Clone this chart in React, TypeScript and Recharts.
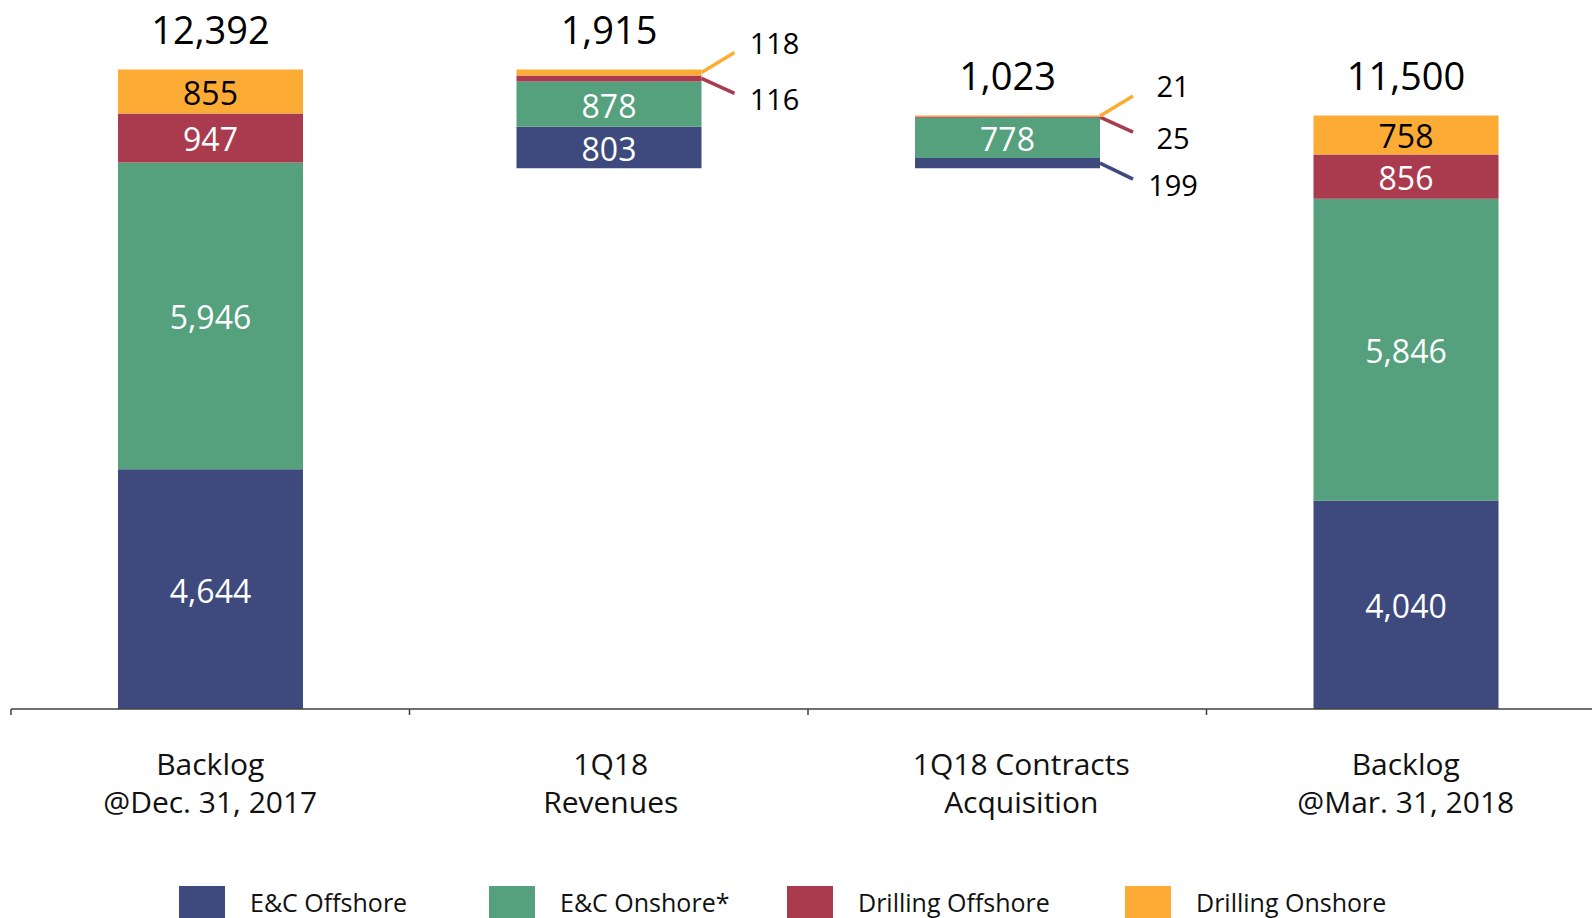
import { BarChart, Bar, XAxis, YAxis, LabelList } from 'recharts';

const categories = [
  'Backlog\n@Dec. 31, 2017',
  '1Q18\nRevenues',
  '1Q18 Contracts\nAcquisition',
  'Backlog\n@Mar. 31, 2018',
];
// invisible offset so the middle bars float (waterfall)
const base = [0, 10477, 10477, 0];
const ecOffshore = [4644, 803, 199, 4040];
const ecOnshore = [5946, 878, 778, 5846];
const drillingOffshore = [947, 116, 25, 856];
const drillingOnshore = [855, 118, 21, 758];
const totals = [12392, 1915, 1023, 11500];

const seriesNames = ['E&C Offshore', 'E&C Onshore*', 'Drilling Offshore', 'Drilling Onshore'];
const COLORS = ['#3E4A7D', '#55A07D', '#AA3B4F', '#FCAC35'];

const CHART_W = 1605;
const CHART_H = 918;
const MARGIN = { top: 38, right: 0, left: 11, bottom: 99 };
const BAND = (CHART_W - MARGIN.left - MARGIN.right) / categories.length;
const FONT = '"Open Sans", "DejaVu Sans", sans-serif';
// small horizontal nudge of the category text, as in the original slide
const tickNudge = [0, 2, 14, 0];

const chartData = categories.map((name, i) => ({
  name,
  base: base[i],
  ecOffshore: ecOffshore[i],
  ecOnshore: ecOnshore[i],
  drillingOffshore: drillingOffshore[i],
  drillingOnshore: drillingOnshore[i],
  total: totals[i],
}));

const fmt = (v: number) => v.toLocaleString('en-US');

function CategoryTick(props: any) {
  const { x, y, payload, index } = props;
  const lines = String(payload.value).split('\n');
  const tx = x + (tickNudge[index] ?? 0);
  return (
    <g>
      <line x1={x - BAND / 2} x2={x - BAND / 2} y1={y} y2={y + 6} stroke="#404040" strokeWidth={1.5} />
      {lines.map((l, i) => (
        <text
          key={i}
          x={tx}
          y={y + 54.5 + i * 37.5}
          textAnchor="middle"
          dominantBaseline="central"
          fontSize={30}
          fontFamily={FONT}
          fill="#111"
        >
          {l}
        </text>
      ))}
    </g>
  );
}

// value inside the segment, or a leader line + label when the segment is too thin
const segLabel = (color: string, textColor: string, leaderDy: number, textDy: number) => (props: any) => {
  const x = Number(props.x), y = Number(props.y);
  const width = Number(props.width), height = Number(props.height);
  const value = props.value;
  if (value == null || !height) return null;
  if (height >= 20) {
    return (
      <text
        x={x + width / 2}
        y={y + height / 2 + 1}
        textAnchor="middle"
        dominantBaseline="central"
        fontSize={32}
        fontFamily={FONT}
        fill={textColor}
      >
        {fmt(value)}
      </text>
    );
  }
  const sx = x + width;
  const sy = y + height / 2;
  const ex = sx + 33;
  const ey = sy + leaderDy;
  return (
    <g>
      <line x1={sx} y1={sy} x2={ex} y2={ey} stroke={color} strokeWidth={3.5} />
      <text
        x={ex + 40}
        y={ey + textDy}
        textAnchor="middle"
        dominantBaseline="central"
        fontSize={29}
        fontFamily={FONT}
        fill="#000"
      >
        {fmt(value)}
      </text>
    </g>
  );
};

const totalLabel = (props: any) => {
  const x = Number(props.x), y = Number(props.y), width = Number(props.width);
  return (
    <text
      x={x + width / 2}
      y={y - 40}
      textAnchor="middle"
      dominantBaseline="central"
      fontSize={38}
      fontWeight={500}
      fontFamily={FONT}
      fill="#000"
    >
      {fmt(props.value)}
    </text>
  );
};

const legendLeft = [179, 489, 787, 1125];

export default function App() {
  return (
    <div
      style={{
        position: 'fixed',
        left: 0,
        top: 0,
        width: 1592,
        height: 918,
        overflow: 'hidden',
        background: '#fff',
        fontFamily: FONT,
      }}
    >
      <BarChart width={CHART_W} height={CHART_H} data={chartData} margin={MARGIN} barSize={185}>
        <XAxis
          dataKey="name"
          height={110}
          interval={0}
          tickSize={0}
          tickMargin={0}
          tickLine={false}
          axisLine={{ stroke: '#404040', strokeWidth: 1.5 }}
          tick={<CategoryTick />}
        />
        <YAxis hide domain={[0, 13000]} />
        <Bar dataKey="base" stackId="a" fill="transparent" isAnimationActive={false} />
        <Bar dataKey="ecOffshore" stackId="a" fill={COLORS[0]} isAnimationActive={false}>
          <LabelList dataKey="ecOffshore" content={segLabel(COLORS[0], '#fff', 16, 5)} />
        </Bar>
        <Bar dataKey="ecOnshore" stackId="a" fill={COLORS[1]} isAnimationActive={false}>
          <LabelList dataKey="ecOnshore" content={segLabel(COLORS[1], '#fff', 16, 5)} />
        </Bar>
        <Bar dataKey="drillingOffshore" stackId="a" fill={COLORS[2]} isAnimationActive={false}>
          <LabelList dataKey="drillingOffshore" content={segLabel(COLORS[2], '#fff', 15, 5)} />
        </Bar>
        <Bar dataKey="drillingOnshore" stackId="a" fill={COLORS[3]} isAnimationActive={false}>
          <LabelList dataKey="drillingOnshore" content={segLabel(COLORS[3], '#000', -20, -10)} />
          <LabelList dataKey="total" content={totalLabel} />
        </Bar>
      </BarChart>
      {seriesNames.map((n, i) => (
        <div key={n} style={{ position: 'absolute', left: legendLeft[i], top: 886, height: 32, display: 'flex', alignItems: 'center' }}>
          <div style={{ width: 46, height: 32, background: COLORS[i] }} />
          <span style={{ marginLeft: 25, fontSize: 25, color: '#111', whiteSpace: 'nowrap' }}>{n}</span>
        </div>
      ))}
    </div>
  );
}
